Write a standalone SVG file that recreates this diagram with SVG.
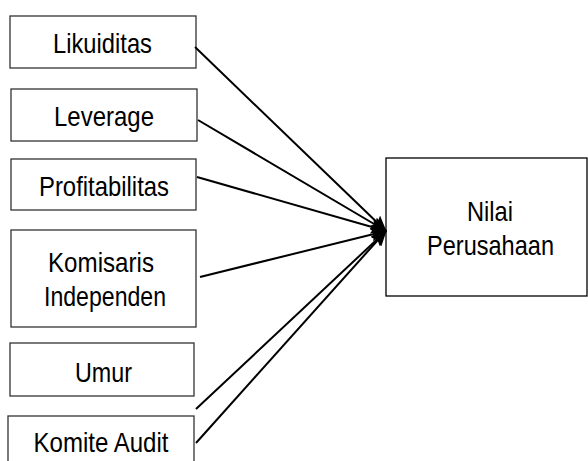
<svg xmlns="http://www.w3.org/2000/svg" width="588" height="461" viewBox="0 0 588 461">
<style>
.box{fill:#fff;stroke:#333;stroke-width:1.3}
.tbox{fill:#fff;stroke:#000;stroke-width:1.3}
.lbl{font-family:"Liberation Sans",Arial,sans-serif;font-size:28px;fill:#000;text-anchor:middle}
.con{stroke:#000;stroke-width:2;fill:none;marker-end:url(#ah)}
</style>
<defs>
<marker id="ah" markerUnits="userSpaceOnUse" markerWidth="16" markerHeight="14" refX="15" refY="7" orient="auto">
<path d="M0,0 L16,7 L0,14 L3,7 z" fill="#000"/>
</marker>
</defs>
<g id="likuiditas"><rect class="box" x="10" y="16" width="186" height="52"/><text class="lbl" x="102.5" y="53" textLength="99" lengthAdjust="spacingAndGlyphs">Likuiditas</text></g>
<g id="leverage"><rect class="box" x="11" y="89" width="186" height="52"/><text class="lbl" x="104" y="126" textLength="100" lengthAdjust="spacingAndGlyphs">Leverage</text></g>
<g id="profitabilitas"><rect class="box" x="11" y="159" width="185" height="51"/><text class="lbl" x="104" y="196" textLength="130" lengthAdjust="spacingAndGlyphs">Profitabilitas</text></g>
<g id="komisaris"><rect class="box" x="11" y="230" width="185" height="97"/><text class="lbl" x="101" y="272" textLength="106" lengthAdjust="spacingAndGlyphs">Komisaris</text><text class="lbl" x="105" y="306" textLength="122" lengthAdjust="spacingAndGlyphs">Independen</text></g>
<g id="umur"><rect class="box" x="10" y="343" width="184" height="53"/><text class="lbl" x="103.5" y="382" textLength="57" lengthAdjust="spacingAndGlyphs">Umur</text></g>
<g id="komite"><rect class="box" x="8" y="416" width="186" height="60"/><text class="lbl" x="101" y="452" textLength="135" lengthAdjust="spacingAndGlyphs">Komite Audit</text></g>
<g id="nilai"><rect class="tbox" x="386" y="158" width="201" height="138"/><text class="lbl" x="490" y="221" textLength="46" lengthAdjust="spacingAndGlyphs">Nilai</text><text class="lbl" x="490.5" y="255" textLength="127" lengthAdjust="spacingAndGlyphs">Perusahaan</text></g>
<g id="connectors">
<line class="con" x1="195" y1="47" x2="386" y2="231"/>
<line class="con" x1="198" y1="120" x2="386" y2="231"/>
<line class="con" x1="197" y1="177" x2="386" y2="231"/>
<line class="con" x1="200" y1="277" x2="386" y2="231"/>
<line class="con" x1="196" y1="409" x2="386" y2="231"/>
<line class="con" x1="196" y1="443" x2="386" y2="231"/>
</g>
</svg>
